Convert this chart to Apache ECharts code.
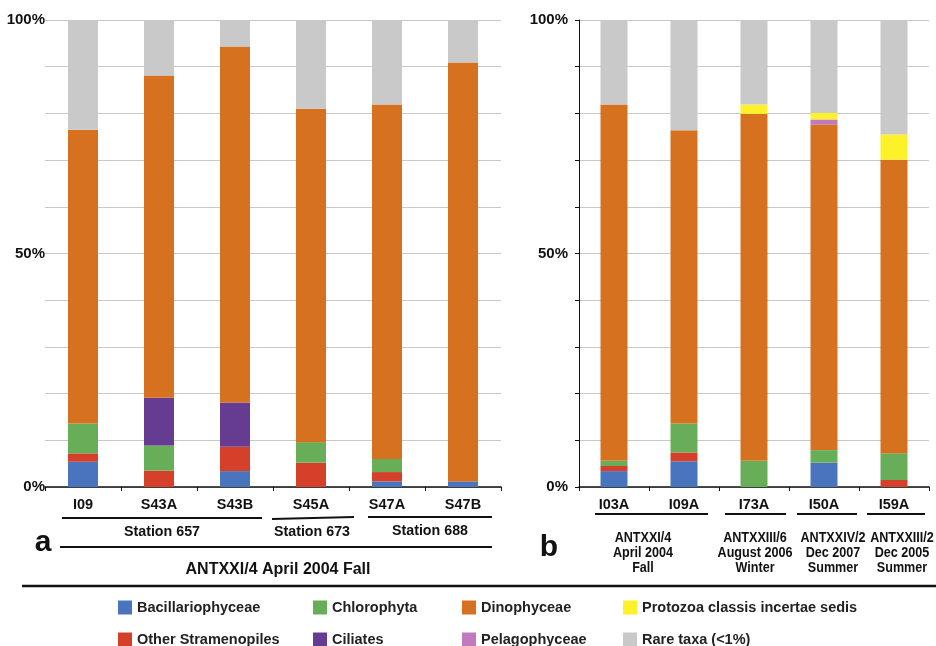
<!DOCTYPE html>
<html>
<head>
<meta charset="utf-8">
<script src="https://cdn.jsdelivr.net/npm/echarts@6/dist/echarts.min.js"></script>
<style>
html,body{margin:0;padding:0;background:#fff;}
#c{width:936px;height:646px;}
</style>
</head>
<body>
<div id="c"></div>
<script>
// ---- data ----
const leftCats = ['I09', 'S43A', 'S43B', 'S45A', 'S47A', 'S47B'];
const rightCats = ['I03A', 'I09A', 'I73A', 'I50A', 'I59A'];
const yTicks = [0, 50, 100];

const taxa = ['Bacillariophyceae', 'Other Stramenopiles', 'Chlorophyta', 'Ciliates',
              'Dinophyceae', 'Pelagophyceae', 'Protozoa classis incertae sedis', 'Rare taxa (<1%)'];

// panel a (%)
const leftBacillariophyceae = [5.4, 0, 3.4, 0, 1.2, 1.2];
const leftOtherStramenopiles = [1.8, 3.5, 5.2, 5.2, 2.0, 0];
const leftChlorophyta = [6.4, 5.4, 0, 4.4, 2.8, 0];
const leftCiliates = [0, 10.2, 9.5, 0, 0, 0];
const leftDinophyceae = [62.9, 69.0, 76.2, 71.4, 75.9, 89.7];
const leftPelagophyceae = [0, 0, 0, 0, 0, 0];
const leftProtozoa = [0, 0, 0, 0, 0, 0];
const leftRare = [23.5, 11.9, 5.7, 19.0, 18.1, 9.1];

// panel b (%)
const rightBacillariophyceae = [3.4, 5.5, 0, 5.2, 0];
const rightOtherStramenopiles = [1.1, 1.9, 0, 0, 1.5];
const rightChlorophyta = [1.1, 6.2, 5.6, 2.7, 5.7];
const rightCiliates = [0, 0, 0, 0, 0];
const rightDinophyceae = [76.3, 62.8, 74.3, 69.7, 62.9];
const rightPelagophyceae = [0, 0, 0, 1.1, 0];
const rightProtozoa = [0, 0, 2.0, 1.4, 5.4];
const rightRare = [18.1, 23.6, 18.1, 19.9, 24.5];

const leftData = [leftBacillariophyceae, leftOtherStramenopiles, leftChlorophyta, leftCiliates,
                  leftDinophyceae, leftPelagophyceae, leftProtozoa, leftRare];
const rightData = [rightBacillariophyceae, rightOtherStramenopiles, rightChlorophyta, rightCiliates,
                   rightDinophyceae, rightPelagophyceae, rightProtozoa, rightRare];

// ---- styles ----
const colors = ['#4a74be', '#d5402b', '#68ad57', '#653c91', '#d6711f', '#c27abf', '#fdf22a', '#c9c9c9'];
const FONT = "'Liberation Sans Narrow', 'Liberation Sans', Arial, sans-serif";

const series = [];
taxa.forEach((name, i) => {
  series.push({
    name, type: 'bar', stack: 'a', xAxisIndex: 0, yAxisIndex: 0,
    barWidth: 30, data: leftData[i], itemStyle: { color: colors[i] }
  });
  series.push({
    name, type: 'bar', stack: 'b', xAxisIndex: 1, yAxisIndex: 1,
    barWidth: 27, data: rightData[i], itemStyle: { color: colors[i] }
  });
});

// legend layout: two rows of four
const legendOrder = [
  ['Bacillariophyceae', 118, 600], ['Chlorophyta', 313, 600], ['Dinophyceae', 462, 600], ['Protozoa classis incertae sedis', 623, 600],
  ['Other Stramenopiles', 118, 632], ['Ciliates', 313, 632], ['Pelagophyceae', 462, 632], ['Rare taxa (<1%)', 623, 632]
];
const legends = legendOrder.map(([n, l, t]) => ({
  data: [n], left: l, top: t, padding: 0, icon: 'rect', itemWidth: 14, itemHeight: 14, itemGap: 5,
  selectedMode: false,
  textStyle: { fontFamily: FONT, fontWeight: 'bold', fontSize: 14.5, color: '#222' }
}));

const yLabel = v => (yTicks.indexOf(v) >= 0 ? v + '%' : '');

// text annotation; sx = horizontal squeeze to mimic the condensed face of the original
const txt = (text, x, y, size, sx) => ({
  type: 'text', x, y, scaleX: sx || 1,
  style: { text, fontFamily: FONT, fontWeight: 'bold', fontSize: size, lineHeight: 15,
           fill: '#111', align: 'center', verticalAlign: 'middle' }
});
const ln = (x1, y1, x2, y2, w) => ({
  type: 'line', shape: { x1, y1, x2, y2 }, style: { stroke: '#111', lineWidth: w || 2 }
});

const graphics = [
  // panel a annotations
  ln(62, 518, 262, 518), ln(272, 519, 354, 517), ln(368, 517, 492, 517),
  txt('Station 657', 162, 532, 15, 0.95), txt('Station 673', 312, 532, 15, 0.95), txt('Station 688', 430, 531, 15, 0.95),
  txt('a', 43, 543, 30),
  ln(60, 547, 492, 547),
  txt('ANTXXI/4 April 2004 Fall', 278, 570, 16),
  ln(22, 586, 936, 586, 2.5),
  // panel b annotations
  ln(595, 514, 708, 514), ln(725, 514, 786, 514), ln(797, 514, 857, 514), ln(867, 514, 925, 514),
  txt('b', 549, 548, 30),
  txt('ANTXXI/4\nApril 2004\nFall', 643, 553, 15, 0.84),
  txt('ANTXXIII/6\nAugust 2006\nWinter', 755, 553, 15, 0.84),
  txt('ANTXXIV/2\nDec 2007\nSummer', 833, 553, 15, 0.84),
  txt('ANTXXIII/2\nDec 2005\nSummer', 902, 553, 15, 0.84)
];

const xLab = { fontFamily: FONT, fontWeight: 'bold', fontSize: 14.5, color: '#111', margin: 10 };
const yLabStyle = { fontFamily: FONT, fontWeight: 'bold', fontSize: 15, color: '#111' };

const chart = echarts.init(document.getElementById('c'), null, { renderer: 'canvas' });
chart.setOption({
  animation: false,
  backgroundColor: '#fff',
  textStyle: { fontFamily: FONT },
  legend: legends,
  grid: [
    { left: 45, right: 435, top: 20, bottom: 159 },
    { left: 579, right: 7, top: 20, bottom: 159 }
  ],
  xAxis: [
    { type: 'category', gridIndex: 0, data: leftCats,
      axisLine: { lineStyle: { color: '#111', width: 1.5 } },
      axisTick: { show: true, length: 4, lineStyle: { color: '#111' } },
      axisLabel: xLab },
    { type: 'category', gridIndex: 1, data: rightCats,
      axisLine: { lineStyle: { color: '#111', width: 1.5 } },
      axisTick: { show: true, length: 4, lineStyle: { color: '#111' } },
      axisLabel: xLab }
  ],
  yAxis: [
    { type: 'value', gridIndex: 0, min: 0, max: 100, interval: 10,
      axisLine: { show: false }, axisTick: { show: false },
      splitLine: { lineStyle: { color: '#c8c8c8', width: 1 } },
      axisLabel: Object.assign({ formatter: yLabel, margin: 0 }, yLabStyle) },
    { type: 'value', gridIndex: 1, min: 0, max: 100, interval: 10,
      axisLine: { show: true, lineStyle: { color: '#111', width: 1 } },
      axisTick: { show: true, length: 4, lineStyle: { color: '#111' } },
      splitLine: { lineStyle: { color: '#c8c8c8', width: 1 } },
      axisLabel: Object.assign({ formatter: yLabel, margin: 11 }, yLabStyle) }
  ],
  series,
  graphic: graphics
});
</script>
</body>
</html>
